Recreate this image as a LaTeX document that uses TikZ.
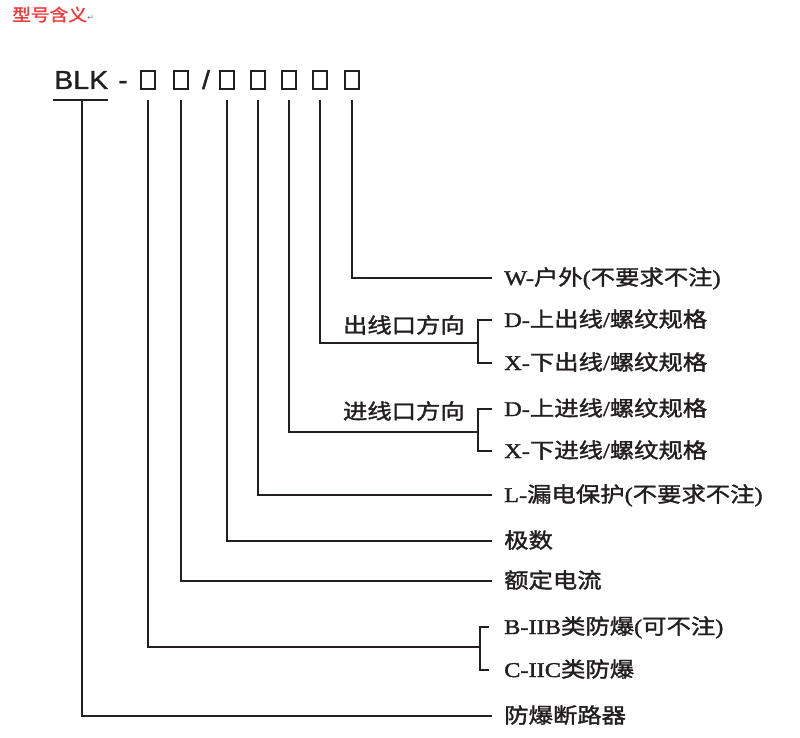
\documentclass[tikz,border=0pt]{standalone}
\usepackage{fontspec}
\newfontfamily\cjk[FakeStretch=1.16,FakeBold=1.6]{Noto Sans CJK SC}
\newfontfamily\latserif[FakeStretch=1.16,FakeBold=1.6]{Liberation Serif}
\newfontfamily\latsans[FakeStretch=1.1,FakeBold=1.2]{Liberation Sans}
\newfontfamily\titlecjk[FakeStretch=1.1,FakeBold=1.5]{Noto Sans CJK SC}
\newfontfamily\symfont{DejaVu Sans}
\newcommand{\lt}[1]{{\latserif #1}}
\definecolor{titlered}{RGB}{240,58,58}
\definecolor{ink}{RGB}{35,31,32}
\begin{document}
\begin{tikzpicture}[x=1pt,y=-1pt,
  conn/.style={draw=ink,line width=1.5pt},
  codebox/.style={draw=ink,line width=1.5pt,minimum width=14pt,minimum height=18pt,inner sep=0pt},
  lab/.style={anchor=west,inner sep=0pt,text height=17pt,text depth=3pt,font=\cjk\fontsize{21}{21}\selectfont,text=ink},
  grp/.style={anchor=east,inner sep=0pt,text height=17pt,text depth=3pt,font=\cjk\fontsize{21}{21}\selectfont,text=ink},
  codetext/.style={inner sep=0pt,font=\latsans\fontsize{26}{26}\selectfont,text=ink}
]
\useasboundingbox (0,0) rectangle (800,738);
% title
\node[anchor=base west,inner sep=0pt,text=titlered,font=\titlecjk\fontsize{17}{17}\selectfont] (title) at (12,21) {型号含义};
\node[anchor=base west,inner sep=0pt,text=gray,font=\symfont\fontsize{8}{8}\selectfont] (ret) at (title.base east) {↵};
% code line
\node[codetext,anchor=base west] (blk) at (54,89) {BLK};
\node[codetext,anchor=base] (dash) at (123,89) {-};
\node[codebox] (b1) at (148,80) {};
\node[codebox] (b2) at (181,80) {};
\node[codetext,anchor=base] (slash) at (206,89) {/};
\node[codebox] (b3) at (227,80) {};
\node[codebox] (b4) at (258,80) {};
\node[codebox] (b5) at (289,80) {};
\node[codebox] (b6) at (320,80) {};
\node[codebox] (b7) at (352,80) {};
\coordinate (ul) at (53,100);
\coordinate (ur) at (108,100);
\coordinate (ut) at (82,100);
\draw[conn] (ul) -- (ur);
% labels
\node[lab] (w) at (504,278) {\lt{W-}户外\lt{(}不要求不注\lt{)}};
\node[lab] (dout) at (504,320) {\lt{D-}上出线\lt{/}螺纹规格};
\node[lab] (xout) at (504,363) {\lt{X-}下出线\lt{/}螺纹规格};
\node[lab] (din) at (504,409) {\lt{D-}上进线\lt{/}螺纹规格};
\node[lab] (xin) at (504,451) {\lt{X-}下进线\lt{/}螺纹规格};
\node[lab] (leak) at (504,495) {\lt{L-}漏电保护\lt{(}不要求不注\lt{)}};
\node[lab] (pole) at (504,541) {极数};
\node[lab] (cur) at (504,581) {额定电流};
\node[lab] (cb) at (504,627) {\lt{B-IIB}类防爆\lt{(}可不注\lt{)}};
\node[lab] (cc) at (504,670) {\lt{C-IIC}类防爆};
\node[lab] (brk) at (504,716) {防爆断路器};
\node[grp] (gout) at (465,326) {出线口方向};
\node[grp] (gin) at (465,412) {进线口方向};
% bracket points
\coordinate (bout) at (478,343);
\coordinate (bin) at (478,432);
\coordinate (bex) at (480,647);
% connectors
\draw[conn,shorten <=10pt] (b7.south) |- ([xshift=-12pt]w.west);
\draw[conn,shorten <=10pt] (b6.south) |- (bout);
\draw[conn] ([xshift=-12pt]dout.west) -| (bout) |- ([xshift=-12pt]xout.west);
\draw[conn,shorten <=10pt] (b5.south) |- (bin);
\draw[conn] ([xshift=-12pt]din.west) -| (bin) |- ([xshift=-12pt]xin.west);
\draw[conn,shorten <=10pt] (b4.south) |- ([xshift=-12pt]leak.west);
\draw[conn,shorten <=10pt] (b3.south) |- ([xshift=-12pt]pole.west);
\draw[conn,shorten <=10pt] (b2.south) |- ([xshift=-12pt]cur.west);
\draw[conn,shorten <=10pt] (b1.south) |- (bex);
\draw[conn] ([xshift=-15pt]cb.west) -| (bex) |- ([xshift=-15pt]cc.west);
\draw[conn] (ut) |- ([xshift=-12pt]brk.west);
\end{tikzpicture}
\end{document}
